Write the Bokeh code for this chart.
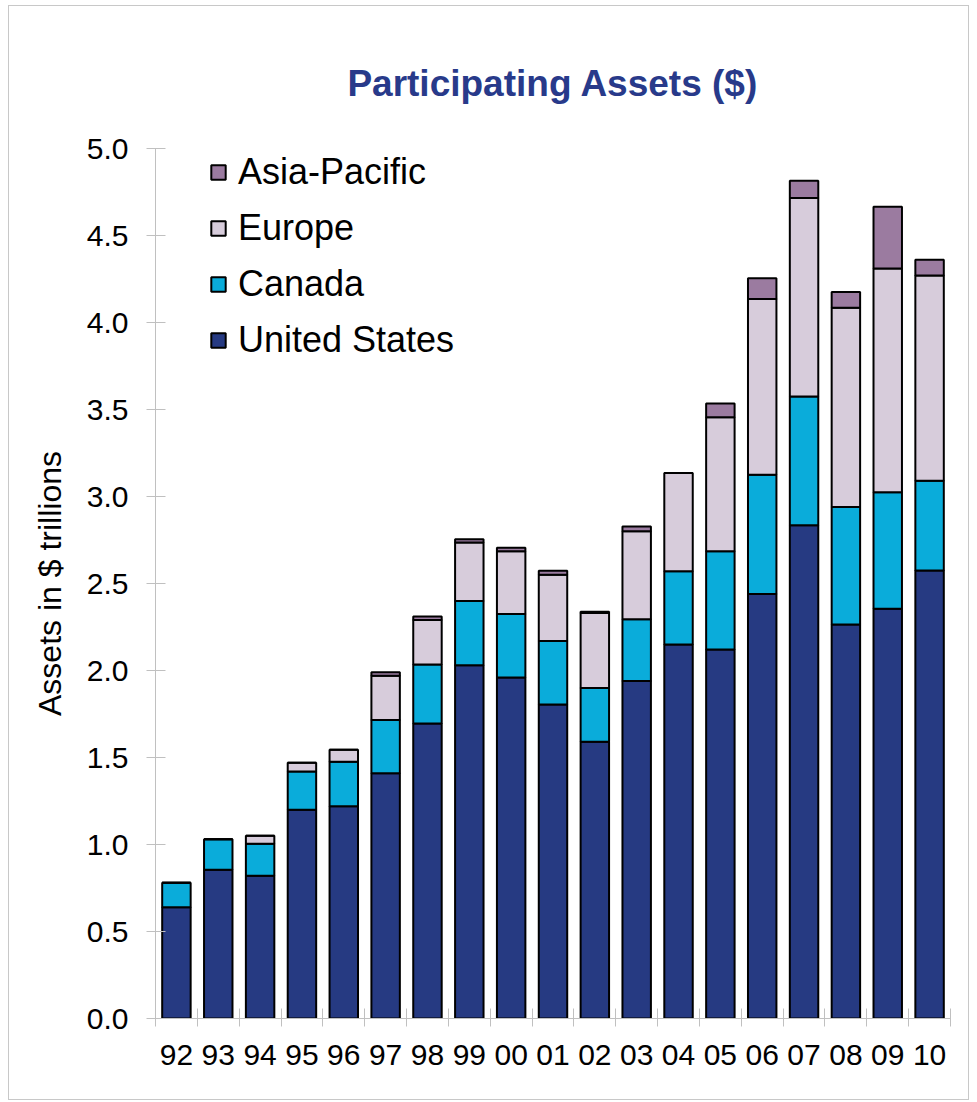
from bokeh.plotting import figure
from bokeh.models import FixedTicker, Legend, LegendItem, ColumnDataSource, Range1d
from bokeh.embed import file_html
from bokeh.resources import INLINE

years = ["92", "93", "94", "95", "96", "97", "98", "99", "00", "01",
         "02", "03", "04", "05", "06", "07", "08", "09", "10"]
united_states = [0.64, 0.855, 0.82, 1.20, 1.22, 1.41, 1.695, 2.03, 1.96, 1.805,
                 1.59, 1.94, 2.15, 2.12, 2.44, 2.835, 2.265, 2.355, 2.575]
canada = [0.14, 0.175, 0.185, 0.22, 0.255, 0.305, 0.34, 0.37, 0.365, 0.365,
          0.31, 0.355, 0.42, 0.565, 0.685, 0.74, 0.675, 0.67, 0.515]
europe = [0.0, 0.0, 0.045, 0.05, 0.07, 0.255, 0.255, 0.335, 0.36, 0.38,
          0.43, 0.505, 0.565, 0.77, 1.01, 1.14, 1.145, 1.285, 1.18]
asia_pacific = [0.0, 0.0, 0.0, 0.0, 0.0, 0.02, 0.02, 0.02, 0.02, 0.023,
                0.007, 0.027, 0.0, 0.08, 0.12, 0.10, 0.09, 0.355, 0.09]
series_names = ["United States", "Canada", "Europe", "Asia-Pacific"]
series_colors = ["#263a82", "#0aacda", "#d7ccdb", "#9b7ba0"]
y_ticks = [0.0, 0.5, 1.0, 1.5, 2.0, 2.5, 3.0, 3.5, 4.0, 4.5, 5.0]

positions = list(range(len(years)))
source = ColumnDataSource(dict(
    x=positions,
    us=united_states, ca=canada, eu=europe, ap=asia_pacific,
))

FONT = "Liberation Sans"

p = figure(width=961, height=1095, output_backend="svg", toolbar_location=None,
           x_range=Range1d(-0.5, len(years) - 0.5), y_range=Range1d(0, 5),
           min_border_left=146, min_border_right=20, min_border_top=142,
           min_border_bottom=83)
p.styles = {"border": "1px solid #c8c8c8", "margin-left": "8px", "margin-top": "5px"}

renderers = p.vbar_stack(["us", "ca", "eu", "ap"], x="x", width=0.68, source=source,
                         color=series_colors, line_color="black", line_width=2)
for r, c in zip(renderers, series_colors):
    r.glyph.fill_color = c
    r.glyph.line_color = "black"

# Title
p.title.text = "Participating Assets ($)"
p.title.text_font = FONT
p.title.text_font_size = "37px"
p.title.text_font_style = "bold"
p.title.text_color = "#283a8a"
p.title.align = "center"
p.title.standoff = 90

# Axes
p.xgrid.visible = False
p.ygrid.visible = False
p.outline_line_color = None

xa = p.xaxis[0]
xa.ticker = FixedTicker(ticks=positions, minor_ticks=[i - 0.5 for i in range(len(years) + 1)])
xa.major_label_overrides = {i: y for i, y in enumerate(years)}
xa.major_tick_in = 0
xa.major_tick_out = 0
xa.minor_tick_in = 10
xa.minor_tick_out = 8
xa.minor_tick_line_color = "#c0c0c0"
xa.axis_line_color = "#c0c0c0"
xa.major_label_text_font = FONT
xa.major_label_text_font_size = "30px"
xa.major_label_text_color = "black"
xa.major_label_standoff = 18

ya = p.yaxis[0]
ya.ticker = FixedTicker(ticks=y_ticks)
ya.minor_tick_line_color = None
ya.major_tick_in = 10
ya.major_tick_out = 9
ya.major_tick_line_color = "#c0c0c0"
ya.axis_line_color = "#c0c0c0"
ya.formatter.use_scientific = False
ya.major_label_overrides = {t: f"{t:.1f}" for t in y_ticks}
ya.major_label_text_font = FONT
ya.major_label_text_font_size = "30px"
ya.major_label_text_color = "black"
ya.major_label_standoff = 18
ya.axis_label = "Assets in $ trillions"
ya.axis_label_text_font = FONT
ya.axis_label_text_font_size = "32px"
ya.axis_label_text_font_style = "normal"
ya.axis_label_text_color = "black"
ya.axis_label_standoff = 16

items = [LegendItem(label=n, renderers=[r]) for n, r in zip(series_names, renderers)][::-1]
legend = Legend(items=items, location=(54, 657), orientation="vertical",
                background_fill_alpha=0, border_line_color=None,
                padding=0, margin=0, spacing=14,
                glyph_width=18, glyph_height=18, label_height=40,
                label_standoff=11,
                label_text_font=FONT, label_text_font_size="36px",
                label_text_color="black")
p.add_layout(legend, "center")

open("out.html", "w").write(file_html(p, INLINE))
